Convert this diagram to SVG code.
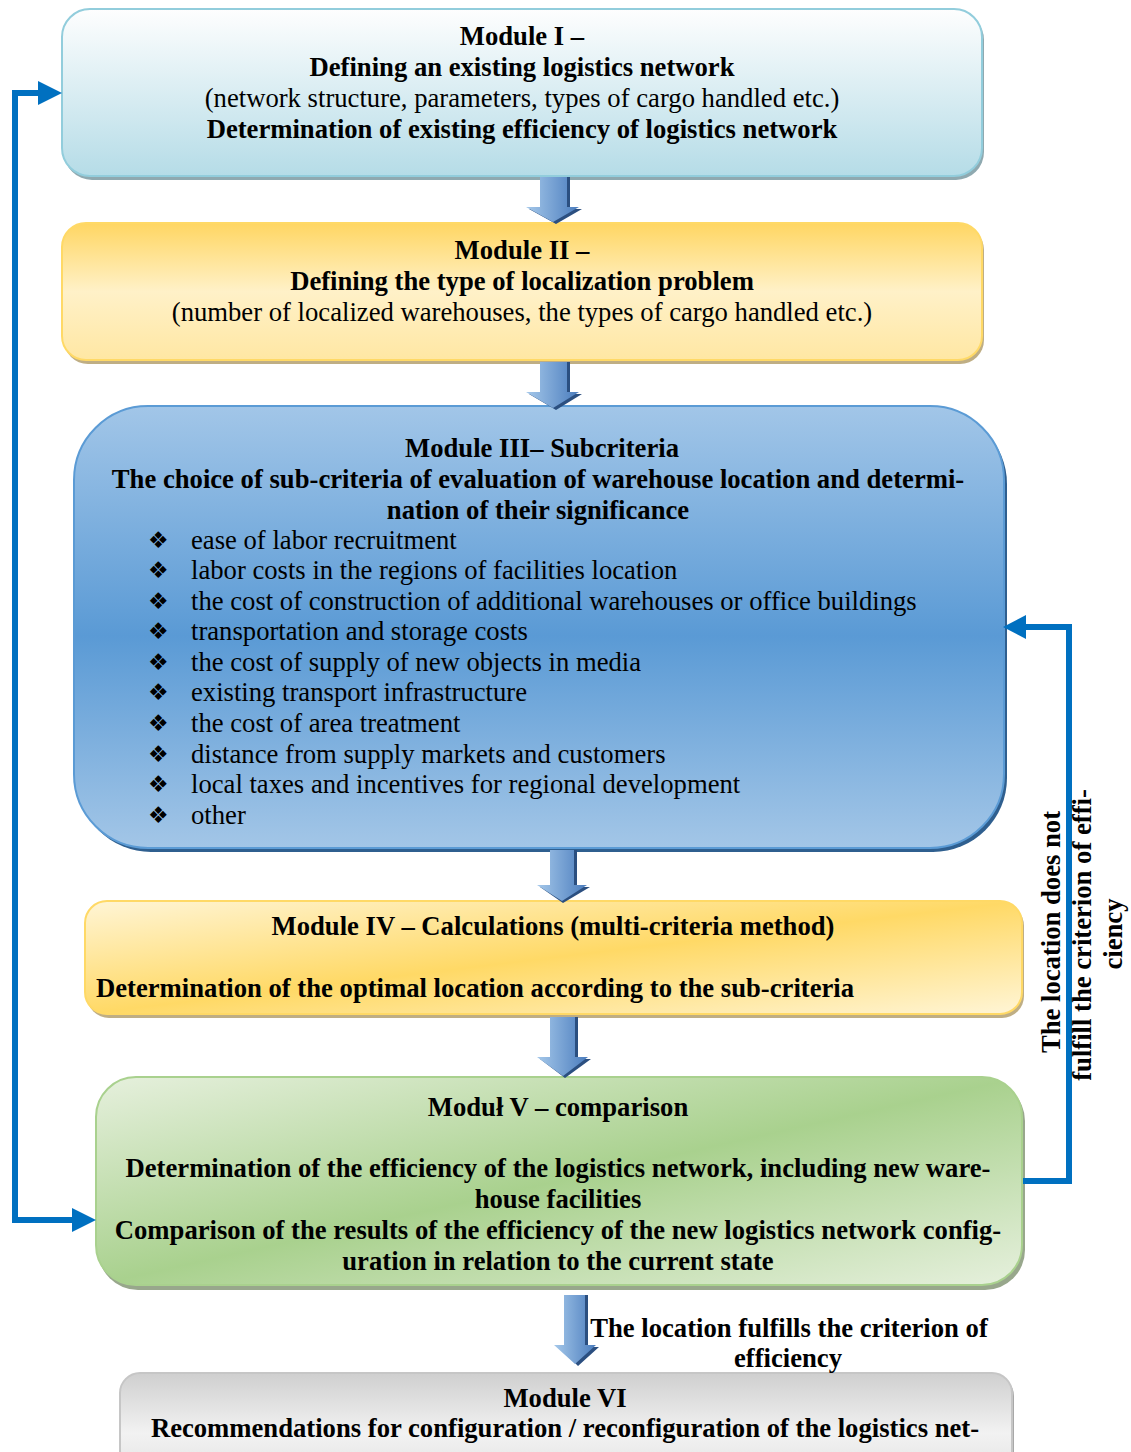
<svg xmlns="http://www.w3.org/2000/svg" width="1131" height="1452" viewBox="0 0 1131 1452">
<style>
text{font-family:"Liberation Serif","Times New Roman",serif;font-size:26.67px;fill:#000}
.b{font-weight:bold}
.m{text-anchor:middle}
.bul{font-family:"DejaVu Sans",sans-serif;font-size:23px}
.conn{fill:none;stroke:#0070c0;stroke-width:6}
.head{fill:#0070c0}
.barrow{fill:url(#gArrow)}
.bshadow{fill:#2b4f80}
</style>
<defs>
<linearGradient id="g1" x1="0" y1="0" x2="0" y2="1"><stop offset="0" stop-color="#fefefe"/><stop offset="1" stop-color="#b5dce7"/></linearGradient>
<linearGradient id="g2" x1="0" y1="0" x2="0" y2="1"><stop offset="0" stop-color="#ffd662"/><stop offset="0.5" stop-color="#fff1c8"/><stop offset="1" stop-color="#ffe7a3"/></linearGradient>
<linearGradient id="g3" x1="0" y1="0" x2="0" y2="1"><stop offset="0" stop-color="#a2c6e8"/><stop offset="0.52" stop-color="#5a9ad5"/><stop offset="1" stop-color="#a3c6e7"/></linearGradient>
<linearGradient id="g4" x1="0" y1="0" x2="1" y2="1"><stop offset="0" stop-color="#fff5d6"/><stop offset="0.5" stop-color="#ffd966"/><stop offset="1" stop-color="#fff5d6"/></linearGradient>
<linearGradient id="g5" x1="0" y1="0" x2="1" y2="1"><stop offset="0" stop-color="#e6f0dd"/><stop offset="0.5" stop-color="#a9d18e"/><stop offset="1" stop-color="#e6f0dd"/></linearGradient>
<linearGradient id="g6" x1="0" y1="0" x2="0" y2="1"><stop offset="0" stop-color="#cfcfcf"/><stop offset="0.6" stop-color="#f2f2f2"/><stop offset="1" stop-color="#e4e4e4"/></linearGradient>
<linearGradient id="gArrow" x1="0" y1="0" x2="1" y2="0"><stop offset="0" stop-color="#a5c8ea"/><stop offset="1" stop-color="#4a7cbd"/></linearGradient>
</defs>

<g id="module1">
<rect x="64" y="12" width="920" height="168" rx="28" fill="#8fa9b0"/>
<rect x="62" y="9" width="920" height="167" rx="28" fill="url(#g1)" stroke="#92cddc" stroke-width="2"/>
<text class="b m" x="522" y="45">Module I –</text>
<text class="b m" x="522" y="76">Defining an existing logistics network</text>
<text class="m" x="522" y="107">(network structure, parameters, types of cargo handled etc.)</text>
<text class="b m" x="522" y="138">Determination of existing efficiency of logistics network</text>
</g>

<g id="module2">
<rect x="64" y="226" width="920" height="138" rx="24" fill="#bfae84"/>
<rect x="62" y="223" width="920" height="137" rx="24" fill="url(#g2)" stroke="#ffd966" stroke-width="2"/>
<text class="b m" x="522" y="259">Module II –</text>
<text class="b m" x="522" y="290">Defining the type of localization problem</text>
<text class="m" x="522" y="321">(number of localized warehouses, the types of cargo handled etc.)</text>
</g>

<g id="module3">
<rect x="77" y="410" width="930" height="442" rx="74" fill="#2f5f8f"/>
<rect x="74" y="406" width="930" height="442" rx="74" fill="url(#g3)" stroke="#5b9bd5" stroke-width="2"/>
<text class="b m" x="542" y="457">Module III– Subcriteria</text>
<text class="b m" x="538" y="488">The choice of sub-criteria of evaluation of warehouse location and determi-</text>
<text class="b m" x="538" y="519">nation of their significance</text>
<g class="items">
<text class="bul" x="148" y="548">❖</text><text x="191" y="549">ease of labor recruitment</text>
<text class="bul" x="148" y="578">❖</text><text x="191" y="579">labor costs in the regions of facilities location</text>
<text class="bul" x="148" y="609">❖</text><text x="191" y="610">the cost of construction of additional warehouses or office buildings</text>
<text class="bul" x="148" y="639">❖</text><text x="191" y="640">transportation and storage costs</text>
<text class="bul" x="148" y="670">❖</text><text x="191" y="671">the cost of supply of new objects in media</text>
<text class="bul" x="148" y="700">❖</text><text x="191" y="701">existing transport infrastructure</text>
<text class="bul" x="148" y="731">❖</text><text x="191" y="732">the cost of area treatment</text>
<text class="bul" x="148" y="762">❖</text><text x="191" y="763">distance from supply markets and customers</text>
<text class="bul" x="148" y="792">❖</text><text x="191" y="793">local taxes and incentives for regional development</text>
<text class="bul" x="148" y="823">❖</text><text x="191" y="824">other</text>
</g>
</g>

<g id="module4">
<rect x="87" y="904" width="937" height="114" rx="22" fill="#bfae84"/>
<rect x="85" y="901" width="937" height="113" rx="22" fill="url(#g4)" stroke="#ffd966" stroke-width="2"/>
<text class="b m" x="553" y="935">Module IV – Calculations (multi-criteria method)</text>
<text class="b" x="96" y="997">Determination of the optimal location according to the sub-criteria</text>
</g>

<g id="module5">
<rect x="98" y="1081" width="927" height="209" rx="40" fill="#98a78c"/>
<rect x="96" y="1077" width="926" height="208" rx="40" fill="url(#g5)" stroke="#a9d18e" stroke-width="2"/>
<text class="b m" x="558" y="1116">Moduł V – comparison</text>
<text class="b m" x="558" y="1177">Determination of the efficiency of the logistics network, including new ware-</text>
<text class="b m" x="558" y="1208">house facilities</text>
<text class="b m" x="558" y="1239">Comparison of the results of the efficiency of the new logistics network config-</text>
<text class="b m" x="558" y="1270">uration in relation to the current state</text>
</g>

<g id="module6">
<rect x="122" y="1376" width="892" height="100" rx="20" fill="#a8a8a8"/>
<rect x="120" y="1373" width="892" height="100" rx="20" fill="url(#g6)" stroke="#c6c6c6" stroke-width="2"/>
<text class="b m" x="565" y="1407">Module VI</text>
<text class="b m" x="565" y="1437">Recommendations for configuration / reconfiguration of the logistics net-</text>
</g>

<g id="connectors">
<!-- block arrows -->
<polygon class="bshadow" points="543,177 570,177 570,209 582,209 556,224 529,209 543,209"/>
<polygon class="barrow" points="540,177 567,177 567,207 579,207 553,222 526,207 540,207"/>
<polygon class="bshadow" points="543,362 570,362 570,394 582,394 556,410 529,394 543,394"/>
<polygon class="barrow" points="540,362 567,362 567,392 579,392 553,408 526,392 540,392"/>
<polygon class="bshadow" points="553,850 577,850 577,887 590,887 563,903 540,887 553,887"/>
<polygon class="barrow" points="550,850 574,850 574,885 587,885 562,901 537,885 550,885"/>
<polygon class="bshadow" points="553,1017 578,1017 578,1059 591,1059 565,1078 540,1059 553,1059"/>
<polygon class="barrow" points="550,1017 575,1017 575,1057 588,1057 563,1076 537,1057 550,1057"/>
<polygon class="bshadow" points="567,1295 588,1295 588,1347 599,1347 578,1366 559,1347 567,1347"/>
<polygon class="barrow" points="564,1295 585,1295 585,1345 596,1345 575,1364 554,1345 564,1345"/>
<!-- left feedback -->
<polyline class="conn" points="40,93 15,93 15,1220 72,1220"/>
<polygon class="head" points="38,81 62,93 38,105"/>
<polygon class="head" points="72,1208 96,1220 72,1232"/>
<!-- right feedback -->
<polyline class="conn" points="1023,1181 1069,1181 1069,627 1026,627"/>
<polygon class="head" points="1026,615 1003,627 1026,639"/>
<!-- labels -->
<text class="b m" transform="translate(1060,932) rotate(-90)">The location does not</text>
<text class="b m" transform="translate(1091,935) rotate(-90)">fulfill the criterion of effi-</text>
<text class="b m" transform="translate(1122,934) rotate(-90)">ciency</text>
<text class="b m" x="789" y="1337">The location fulfills the criterion of</text>
<text class="b m" x="788" y="1367">efficiency</text>
</g>
</svg>
